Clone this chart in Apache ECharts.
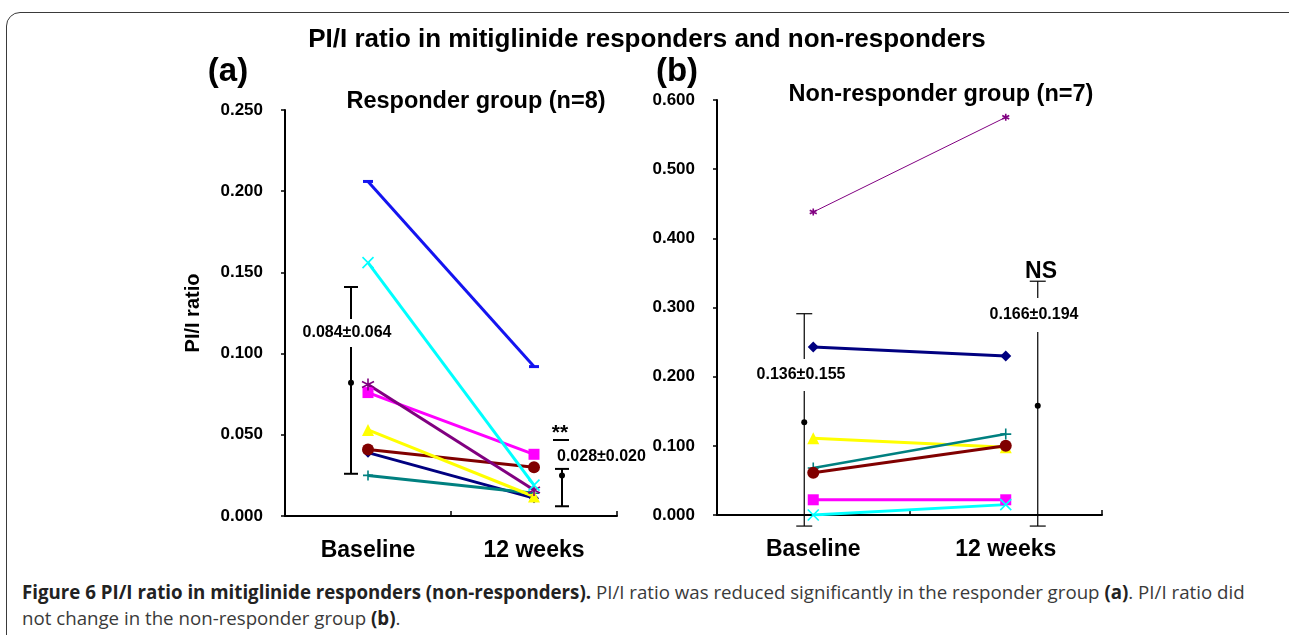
<!DOCTYPE html>
<html>
<head>
<meta charset="utf-8">
<script src="https://cdn.jsdelivr.net/npm/echarts@6/dist/echarts.min.js"></script>
<style>
  html, body { margin: 0; padding: 0; background: #fff; overflow: hidden; }
  #frame { position: absolute; left: 6px; top: 12px; width: 1310px; height: 660px;
           border: 1.5px solid #3a3a3a; border-radius: 14px; box-sizing: border-box; }
  #chart { position: absolute; left: 0; top: 0; width: 1289px; height: 575px; }
  #caption { position: absolute; left: 22px; top: 579px; width: 1260px;
             font-family: 'Open Sans', sans-serif; font-size: 18.7px; line-height: 26px;
             color: #3a3a3a; white-space: nowrap; }
  #caption b { color: #222; font-weight: 700; }
</style>
</head>
<body>
<div id="frame"></div>
<div id="chart"></div>
<div id="caption"><b>Figure 6 PI/I ratio in mitiglinide responders (non-responders).</b> PI/I ratio was reduced significantly in the responder group <b>(a)</b>. PI/I ratio did<br>not change in the non-responder group <b>(b)</b>.</div>
<script>
// PI/I ratio, responders (a) vs non-responders (b)

const categories = ['Baseline', '12 weeks'];

// (a) responder group, one patient per line: [baseline, 12 weeks]
const aBlue    = [0.206, 0.092];
const aCyan    = [0.156, 0.019];
const aPurple  = [0.081, 0.016];
const aMagenta = [0.076, 0.038];
const aYellow  = [0.053, 0.012];
const aMaroon  = [0.041, 0.030];
const aNavy    = [0.039, 0.011];
const aTeal    = [0.025, 0.014];

// (b) non-responder group
const bPurple  = [0.438, 0.575];
const bNavy    = [0.243, 0.230];
const bYellow  = [0.111, 0.098];
const bTeal    = [0.068, 0.117];
const bMaroon  = [0.061, 0.100];
const bMagenta = [0.022, 0.022];
const bCyan    = [0.000, 0.015];

// mean ± SD bars as drawn: [category, mean, low, high]
const errA = [[0, 0.082, 0.026, 0.141], [1, 0.025, 0.006, 0.029]];
const errB = [[0, 0.134, -0.016, 0.291], [1, 0.158, -0.016, 0.338]];

const statA = ['0.084±0.064', '0.028±0.020'];
const statB = ['0.136±0.155', '0.166±0.194'];

const SYM_X    = 'path://M0,0L10,10M10,0L0,10';
const SYM_STAR = 'path://M5,0L5,10M0.7,2.5L9.3,7.5M0.7,7.5L9.3,2.5';
const SYM_PLUS = 'path://M5,0L5,10M0,5L10,5';
const FONT = 'Liberation Sans, Arial, sans-serif';

function line(data, color, symbol, size, ax, width, stroked) {
  return {
    type: 'line', data, xAxisIndex: ax, yAxisIndex: ax,
    symbol, symbolSize: size, showAllSymbol: true, silent: true,
    lineStyle: { color, width },
    itemStyle: { color, borderColor: color, borderWidth: stroked ? 1.6 : 0 },
    z: 4,
  };
}

function errBars(data, ax, offsets, lw, cap) {
  return {
    type: 'custom', data, xAxisIndex: ax, yAxisIndex: ax,
    clip: false, silent: true, z: 3,
    renderItem(params, api) {
      const c = api.value(0);
      const mid = api.coord([c, api.value(1)]);
      const lo = api.coord([c, api.value(2)]);
      const hi = api.coord([c, api.value(3)]);
      const x = mid[0] + offsets[c];
      const st = { stroke: '#000', lineWidth: lw };
      return {
        type: 'group',
        children: [
          { type: 'line', shape: { x1: x, y1: lo[1], x2: x, y2: hi[1] }, style: st },
          { type: 'line', shape: { x1: x - cap, y1: lo[1], x2: x + cap, y2: lo[1] }, style: st },
          { type: 'line', shape: { x1: x - cap, y1: hi[1], x2: x + cap, y2: hi[1] }, style: st },
          { type: 'circle', shape: { cx: x, cy: mid[1], r: 3 }, style: { fill: '#000' } },
        ],
      };
    },
  };
}

function xAxis(ax) {
  return {
    type: 'category', gridIndex: ax, data: categories, boundaryGap: true,
    axisLine: { lineStyle: { color: '#000', width: 2 } },
    axisTick: { show: true, inside: true, length: 5, lineStyle: { color: '#000', width: 1.5 } },
    axisLabel: { color: '#000', fontFamily: FONT, fontWeight: 'bold', fontSize: 23, margin: 23 },
  };
}

function yAxis(ax, max, interval, name) {
  return {
    type: 'value', gridIndex: ax, min: 0, max, interval,
    name, nameLocation: 'middle', nameRotate: 90, nameGap: 82,
    nameTextStyle: { color: '#000', fontFamily: FONT, fontWeight: 'bold', fontSize: 20 },
    axisLine: { show: true, lineStyle: { color: '#000', width: 2 } },
    axisTick: { show: true, length: 4, lineStyle: { color: '#000', width: 1.5 } },
    splitLine: { show: false },
    axisLabel: { color: '#000', fontFamily: FONT, fontWeight: 'bold', fontSize: 17, margin: 22,
                 formatter: v => v.toFixed(3) },
  };
}

function txt(text, x, y, size, extra) {
  return {
    type: 'text', z: 100,
    style: Object.assign({ text, x, y, textAlign: 'center', textVerticalAlign: 'middle',
             font: `bold ${size}px ${FONT}`, fill: '#000' }, extra || {}),
  };
}

const chart = echarts.init(document.getElementById('chart'));

chart.setOption({
  animation: false,
  grid: [
    { left: 285, top: 110, width: 332, height: 406 },
    { left: 717, top: 100, width: 385, height: 415 },
  ],
  xAxis: [xAxis(0), xAxis(1)],
  yAxis: [yAxis(0, 0.25, 0.05, 'PI/I ratio'), yAxis(1, 0.6, 0.1, '')],
  series: [
    errBars(errA, 0, [-17, 28], 2, 7),
    errBars(errB, 1, [-9, 32], 1.2, 8),

    line(aBlue,    '#1414f0', 'rect',     [10, 3], 0, 3),
    line(aNavy,    '#000080', 'diamond',  10, 0, 3),
    line(aTeal,    '#008080', SYM_PLUS,   10, 0, 3, true),
    line(aMaroon,  '#800000', 'circle',   12, 0, 3),
    line(aYellow,  '#ffff00', 'triangle', 12, 0, 3),
    line(aMagenta, '#ff00ff', 'rect',     11, 0, 3),
    line(aPurple,  '#800080', SYM_STAR,   12, 0, 3, true),
    line(aCyan,    '#00ffff', SYM_X,      11, 0, 3, true),

    line(bPurple,  '#800080', SYM_STAR,   7, 1, 1, true),
    line(bNavy,    '#000080', 'diamond',  11, 1, 3),
    line(bYellow,  '#ffff00', 'triangle', 12, 1, 3),
    line(bTeal,    '#008080', SYM_PLUS,   11, 1, 2.5, true),
    line(bMaroon,  '#800000', 'circle',   12, 1, 3),
    line(bMagenta, '#ff00ff', 'rect',     11, 1, 3),
    line(bCyan,    '#00ffff', SYM_X,      11, 1, 3, true),
  ],
  graphic: [
    txt('PI/I ratio in mitiglinide responders and non-responders', 647, 40, 26),
    txt('(a)', 228, 72, 33),
    txt('(b)', 677, 72, 33),
    txt('Responder group (n=8)', 476, 102, 23.5),
    txt('Non-responder group (n=7)', 941, 95, 23.5),
    txt(statA[0], 347, 333, 16, { backgroundColor: '#fff', padding: [6, 2] }),
    txt(statA[1], 557, 457, 16, { textAlign: 'left' }),
    txt('**', 560, 433, 21),
    { type: 'line', z: 100, shape: { x1: 553, y1: 440, x2: 569, y2: 440 },
      style: { stroke: '#000', lineWidth: 2 } },
    txt(statB[0], 801, 375, 16, { backgroundColor: '#fff', padding: [8, 2] }),
    txt(statB[1], 1034, 315, 16, { backgroundColor: '#fff', padding: [9, 2] }),
    txt('NS', 1041, 272, 23),
  ],
});
</script>
</body>
</html>
